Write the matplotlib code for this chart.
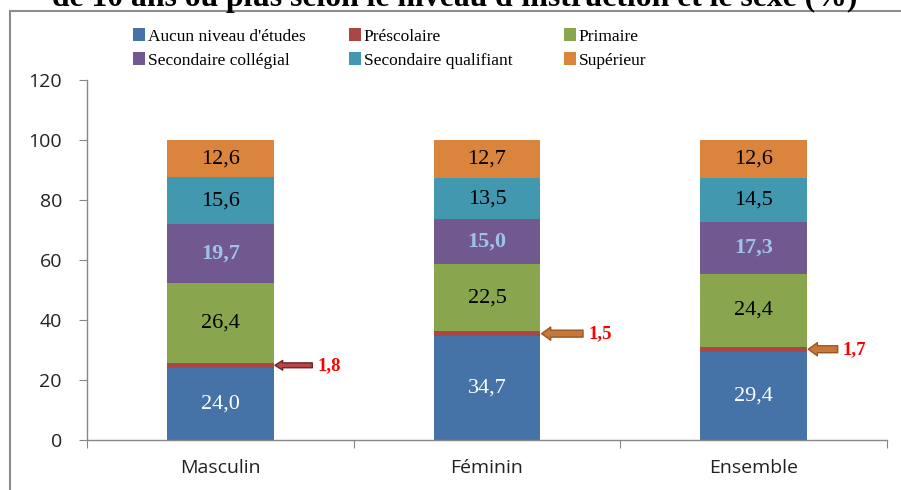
import matplotlib
matplotlib.use("Agg")
import matplotlib.pyplot as plt
from matplotlib.patches import Rectangle, Patch
import numpy as np

# data
categories = ["Masculin", "Féminin", "Ensemble"]
series_names = ["Aucun niveau d'études", "Préscolaire", "Primaire",
                "Secondaire collégial", "Secondaire qualifiant", "Supérieur"]
aucun = [24.0, 34.7, 29.4]
prescolaire = [1.8, 1.5, 1.7]
primaire = [26.4, 22.5, 24.4]
sec_college = [19.7, 15.0, 17.3]
sec_qualifiant = [15.6, 13.5, 14.5]
superieur = [12.6, 12.7, 12.6]
values = [aucun, prescolaire, primaire, sec_college, sec_qualifiant, superieur]

colors = ["#4572a7", "#aa4643", "#89a54e", "#71588f", "#4198af", "#db843d"]
label_colors = ["white", None, "black", "#9dc3e6", "black", "black"]
label_weights = ["normal", None, "normal", "bold", "normal", "normal"]

# arrows pointing at the thin "Préscolaire" segment
arrow_len = [0.14, 0.155, 0.11]
arrow_fc = ["#b5474a", "#c6783a", "#c6783a"]
arrow_ec = ["#6e2626", "#9a5520", "#9a5520"]
arrow_style = ["simple,head_length=0.55,head_width=0.7,tail_width=0.35",
               "simple,head_length=0.65,head_width=0.95,tail_width=0.5",
               "simple,head_length=0.65,head_width=0.95,tail_width=0.5"]

serif = "Liberation Serif"
sans = "Open Sans"

fig = plt.figure(figsize=(9.01, 4.9), dpi=100)
ax = fig.add_axes([87/901, 1-440/490, 800/901, 360/490])

x = np.arange(len(categories))
bw = 0.4
bottom = np.zeros(len(categories))
for k, (vals, col) in enumerate(zip(values, colors)):
    ax.bar(x, vals, bw, bottom=bottom, color=col, edgecolor="none",
           label=series_names[k])
    if label_colors[k] is not None:
        for i, v in enumerate(vals):
            ax.text(x[i], bottom[i] + v/2, f"{v:.1f}".replace(".", ","),
                    ha="center", va="center", fontsize=16, family=serif,
                    color=label_colors[k], weight=label_weights[k])
    bottom = bottom + np.array(vals)

# arrows + labels for Préscolaire
for i in range(len(categories)):
    y = aucun[i] + prescolaire[i] / 2
    tip = x[i] + bw/2 + 0.005
    tail = tip + arrow_len[i]
    ax.annotate("", xy=(tip, y), xytext=(tail, y),
                arrowprops=dict(arrowstyle=arrow_style[i], fc=arrow_fc[i],
                                ec=arrow_ec[i], lw=1, shrinkA=0, shrinkB=0,
                                mutation_scale=10))
    ax.text(tail + 0.02, y, f"{prescolaire[i]:.1f}".replace(".", ","),
            ha="left", va="center", fontsize=13.5, family=serif,
            color="red", weight="bold")

# axes styling
ax.set_ylim(0, 120)
ax.set_xlim(-0.5, 2.5)
ax.set_yticks(np.arange(0, 121, 20))
ax.tick_params(axis="y", direction="out", length=6, color="#888888",
               pad=12, labelsize=14, labelcolor="#222222")
for lab in ax.get_yticklabels():
    lab.set_family(sans)
ax.set_xticks([-0.5, 0.5, 1.5, 2.5])
ax.set_xticklabels([])
ax.tick_params(axis="x", which="major", direction="out", length=6,
               color="#888888")
ax.set_xticks(x, minor=True)
ax.set_xticklabels(categories, minor=True, family=sans, fontsize=14,
                   color="#222222")
ax.tick_params(axis="x", which="minor", length=0, pad=14)
for s in ["top", "right"]:
    ax.spines[s].set_visible(False)
for s in ["left", "bottom"]:
    ax.spines[s].set_color("#888888")
    ax.spines[s].set_linewidth(1)

# legend: three fixed-width columns, two rows
col_x = [133, 349, 564]
for c in range(3):
    idx = [c, c + 3]
    fig.legend([Patch(facecolor=colors[j], edgecolor="none") for j in idx],
               [series_names[j] for j in idx], loc="center left",
               bbox_to_anchor=(col_x[c]/901, 1 - 48.5/490), frameon=False,
               prop=dict(family=serif, size=12.5), handlelength=0.7,
               handleheight=0.7, handletextpad=0.15, labelspacing=0.45,
               borderpad=0, borderaxespad=0)

# partially visible title and outer frame
fig.text(455/901, 1 - 6/490,
         "de 10 ans ou plus selon le niveau d'instruction et le sexe (%)",
         ha="center", va="baseline", fontsize=22.8, weight="bold", family=serif)
fig.add_artist(Rectangle((10/901, -0.1), 1.2, 1.1 - 11/490, fill=False,
                         edgecolor="#8c8c8c", lw=1.5,
                         transform=fig.transFigure, clip_on=False))

fig.savefig("out.png", dpi=100)
